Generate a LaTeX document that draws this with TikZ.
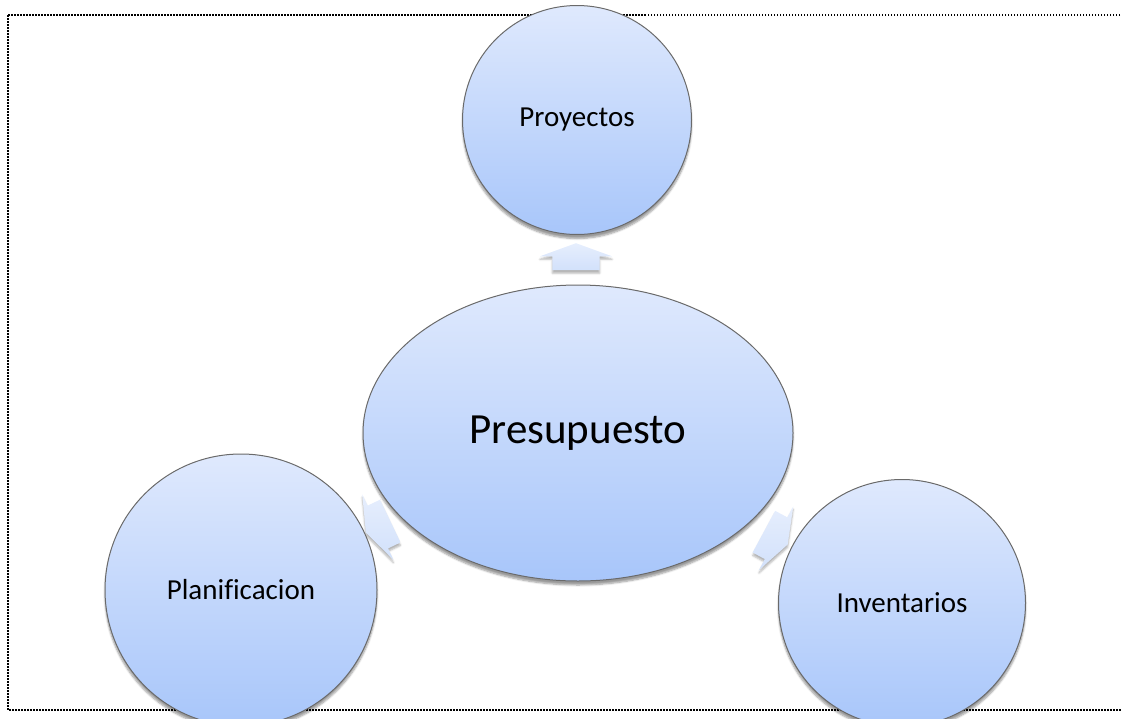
\documentclass[tikz,border=0pt]{standalone}
\usepackage{fontspec}
\setmainfont[Ligatures=NoCommon]{Carlito}
\usetikzlibrary{shapes.geometric,shapes.arrows,shadows.blur}
\definecolor{bubtop}{HTML}{DFE9FD}
\definecolor{bubbot}{HTML}{A8C6FA}
\definecolor{bubline}{HTML}{6A6A6A}
\definecolor{arrtop}{HTML}{E6EEFD}
\definecolor{arrbot}{HTML}{D2E1FB}
\tikzset{
  bubble/.style={circle, draw=bubline, line width=1pt, top color=bubtop, bottom color=bubbot,
    inner sep=0pt, blur shadow={shadow xshift=0pt, shadow yshift=-4pt, shadow blur steps=6, shadow opacity=40},
    font=\fontsize{29}{35}\selectfont},
  hub/.style={bubble, ellipse, font=\fontsize{43}{50}\selectfont},
  blockarrow/.style={single arrow, draw=none, top color=arrtop, bottom color=arrbot,
    minimum height=27pt, minimum width=72pt, inner xsep=0pt, inner ysep=23.5pt,
    single arrow head extend=12.5pt, single arrow tip angle=140,
    blur shadow={shadow xshift=0pt, shadow yshift=-3pt, shadow blur steps=4, shadow opacity=30}}
}
\begin{document}
\begin{tikzpicture}[x=1pt,y=-1pt]
    \clip (0,0) rectangle (1121,718);
    \draw[line width=1.5pt, dash pattern=on 1.5pt off 1.5pt] (8,15) rectangle (1135,710);

    \node[blockarrow, rotate=90]    (up)    at (576,261) {};
    \node[blockarrow, rotate=205.5] (left)  at (382,525) {};
    \node[blockarrow, rotate=-28.3] (right) at (772,536) {};

    \node[hub, minimum width=430pt, minimum height=296pt] (pres) at (578,433) {Presupuesto};
    \node[bubble, minimum size=229pt] (proy) at (577,120) {Proyectos};
    \node[bubble, minimum size=272pt] (plan) at (241,590) {Planificacion};
    \node[bubble, minimum size=247pt] (inv)  at (902,603) {Inventarios};
\end{tikzpicture}
\end{document}
